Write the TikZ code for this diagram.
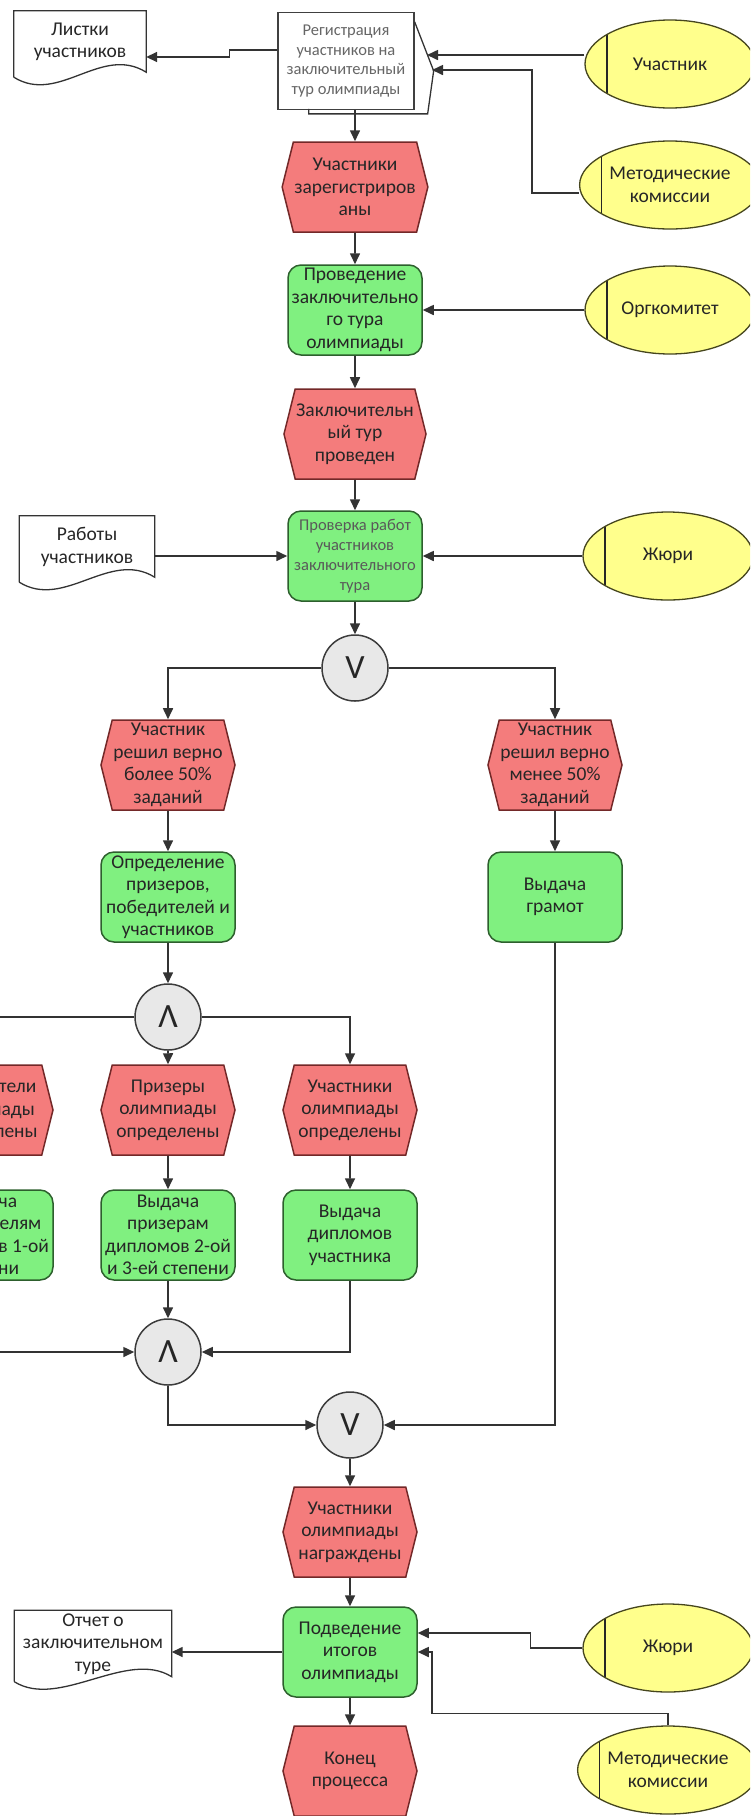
\documentclass[tikz,border=0pt]{standalone}
\usepackage{fontspec}
\setmainfont{Carlito}
\usetikzlibrary{positioning,shapes.geometric,shapes.symbols,arrows.meta}

\definecolor{fnfill}{RGB}{128,240,128}
\definecolor{fnline}{RGB}{45,95,45}
\definecolor{evfill}{RGB}{244,124,124}
\definecolor{evline}{RGB}{115,40,40}
\definecolor{acfill}{RGB}{255,255,140}
\definecolor{acline}{RGB}{70,70,30}
\definecolor{gtfill}{RGB}{232,232,232}
\definecolor{gtline}{RGB}{60,60,60}

\begin{document}
\begin{tikzpicture}[x=1pt, y=-1pt,
  every node/.style={font=\fontsize{19.5}{22.5}\selectfont, align=center, text=black!85},
  fn/.style={draw=fnline, fill=fnfill, rounded corners=13pt, line width=1.5pt,
    minimum width=134pt, minimum height=90pt, inner sep=1pt},
  ev/.style={signal, signal to=west and east, signal pointer angle=152,
    draw=evline, fill=evfill, line width=1.5pt,
    minimum width=134pt, minimum height=90pt, inner sep=1pt},
  actor/.style={ellipse, draw=acline, fill=acfill, line width=1.3pt,
    minimum width=170pt, minimum height=88pt,
    path picture={\draw[line width=1.5pt, black!85]
      ([xshift=22pt]path picture bounding box.north west) --
      ([xshift=22pt]path picture bounding box.south west);}},
  gate/.style={circle, draw=gtline, fill=gtfill, line width=1.5pt,
    minimum size=66pt, inner sep=0pt, font=\fontsize{34}{34}\selectfont},
  regbox/.style={draw=black!75, fill=white, line width=1.3pt,
    minimum width=136pt, minimum height=97pt, inner sep=1pt,
    font=\fontsize{16.5}{19.5}\selectfont, text=black!60},
  doc/.style={inner sep=0pt, minimum width=132pt, minimum height=62pt},
  docline/.style={line width=1.3pt, draw=black!80},
  e/.style={line width=1.6pt, draw=black!80, -{Triangle[length=11pt,width=10pt]}}
]
\useasboundingbox (0,0) rectangle (750,1816);
\clip (0,0) rectangle (750,1816);

% --- registration ---
\node[regbox] (reg) at (346,61) {Регистрация\\участников на\\заключительный\\тур олимпиады};
\node[doc] (list) at (80,42) {Листки\\участников};
\node[actor] (part1) at (670,64) {Участник};
\node[actor] (meth1) at (670,185) {Методические\\комиссии};
\coordinate (regA) at (427,55);
\coordinate (regB) at (432,70);

% --- main column ---
\node[ev] (ev1) at (355,187) {Участники\\зарегистриров\\аны};
\node[fn] (fn1) at (355,310) {Проведение\\заключительно\\го тура\\олимпиады};
\node[actor] (org) at (670,310) {Оргкомитет};
\node[ev] (ev2) at (355,434) {Заключительн\\ый тур\\проведен};
\node[fn, font=\fontsize{16.5}{20}\selectfont, text=black!65] (fn2) at (355,556)
  {Проверка работ\\участников\\заключительного\\тура};
\node[doc, minimum width=135pt] (works) at (87,547) {Работы\\участников};
\node[actor] (jury1) at (668,556) {Жюри};
\node[gate] (or1) at (355,668) {V};

% --- two branches ---
\node[ev] (ev3) at (168,765) {Участник\\решил верно\\более 50\%\\заданий};
\node[ev] (ev4) at (555,765) {Участник\\решил верно\\менее 50\%\\заданий};
\node[fn] (fn3) at (168,897) {Определение\\призеров,\\победителей и\\участников};
\node[fn] (fn4) at (555,897) {Выдача\\грамот};
\node[gate] (and1) at (168,1017) {Λ};

% --- awards ---
\node[ev] (ev5) at (-14,1110) {Победители\\олимпиады\\определены};
\node[ev] (ev6) at (168,1110) {Призеры\\олимпиады\\определены};
\node[ev] (ev7) at (350,1110) {Участники\\олимпиады\\определены};
\node[fn] (fn5) at (-14,1235) {Выдача\\победителям\\дипломов 1-ой\\степени};
\node[fn] (fn6) at (168,1235) {Выдача\\призерам\\дипломов 2-ой\\и 3-ей степени};
\node[fn] (fn7) at (350,1235) {Выдача\\дипломов\\участника};
\node[gate] (and2) at (168,1352) {Λ};
\node[gate] (or2) at (350,1425) {V};

% --- end ---
\node[ev] (ev8) at (350,1532) {Участники\\олимпиады\\награждены};
\node[fn] (fn8) at (350,1652) {Подведение\\итогов\\олимпиады};
\node[doc, minimum width=157pt, minimum height=67pt] (report) at (93,1644) {Отчет о\\заключительном\\туре};
\node[actor] (jury2) at (668,1648) {Жюри};
\node[actor] (meth2) at (668,1770) {Методические\\комиссии};
\node[ev] (ev9) at (350,1771) {Конец\\процесса};

% --- document outlines ---
\foreach \d in {list,works,report}
  \draw[docline] ([yshift=-4pt]\d.south west) -- (\d.north west) -- (\d.north east) -- ([yshift=1pt]\d.south east)
    .. controls +(-45,-28) and +(45,28) .. ([yshift=-4pt]\d.south west);
\draw[docline] ([yshift=-10pt]reg.north east) -- ++(19,49) -- ++(-6,43) -- ++(-119,0) -- ++(0,-5);

% --- connectors ---
\draw[e] ([yshift=11pt]reg.west) -- ++(-48,0) |- ([yshift=-15pt]list.east);
\draw[e] (part1.west |- regA) -- (regA);
\draw[e] ([yshift=-8pt]meth1.west) -- ++(-47,0) |- (regB);
\draw[e] (reg.south -| ev1) -- (ev1.north);
\draw[e] (ev1) -- (fn1);
\draw[e] (org) -- (fn1);
\draw[e] (fn1) -- (ev2);
\draw[e] (ev2) -- (fn2);
\draw[e] (works.east |- fn2.west) -- (fn2.west);
\draw[e] (jury1) -- (fn2);
\draw[e] (fn2) -- (or1);
\draw[e] (or1) -| (ev3);
\draw[e] (or1) -| (ev4);
\draw[e] (ev3) -- (fn3);
\draw[e] (ev4) -- (fn4);
\draw[e] (fn3) -- (and1);
\draw[e] (and1) -| (ev5);
\draw[e] (and1) -- (ev6);
\draw[e] (and1) -| (ev7);
\draw[e] (ev6) -- (fn6);
\draw[e] (ev7) -- (fn7);
\draw[e] (fn5) |- (and2);
\draw[e] (fn6) -- (and2);
\draw[e] (fn7) |- (and2);
\draw[e] (and2) |- (or2);
\draw[e] (fn4) |- (or2);
\draw[e] (or2) -- (ev8);
\draw[e] (ev8) -- (fn8);
\draw[e] (fn8) -- (ev9);
\draw[e] (fn8.west) -- (fn8.west -| report.east);
\draw[e] (jury2.west) -- ++(-52,0) |- ([yshift=19pt]fn8.east);
\draw[e] (meth2.north) -- ++(0,-12) -| ([xshift=14pt]fn8.east) -- (fn8.east);

\end{tikzpicture}
\end{document}
